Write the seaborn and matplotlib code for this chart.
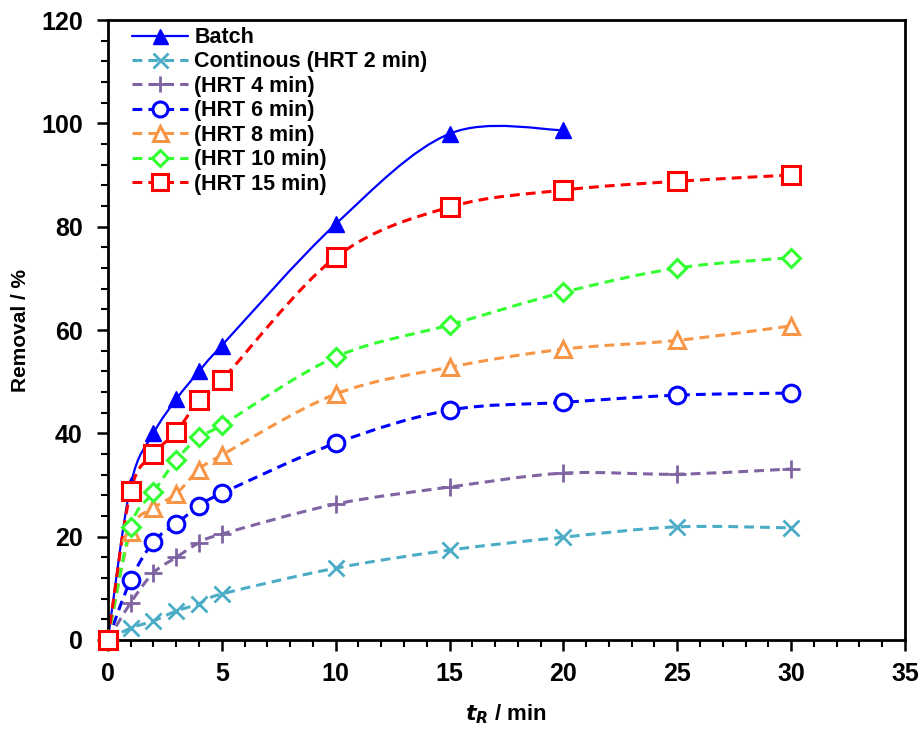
import numpy as np
import pandas as pd
import matplotlib
matplotlib.use("Agg")
import matplotlib.pyplot as plt
import seaborn as sns
from matplotlib.path import Path
from matplotlib.patches import PathPatch
from matplotlib.lines import Line2D
from matplotlib.ticker import MultipleLocator

# ---- data ----
t_batch = [0, 1, 2, 3, 4, 5, 10, 15, 20]
batch = [0, 30, 40, 46.6, 52, 57, 80.5, 98, 98.7]

t_cont = [0, 1, 2, 3, 4, 5, 10, 15, 20, 25, 30]
hrt2 = [0, 2.3, 3.7, 5.6, 7.0, 8.9, 13.9, 17.4, 19.9, 21.9, 21.7]
hrt4 = [0, 7.2, 13.0, 16.0, 18.8, 20.5, 26.3, 29.6, 32.3, 32.1, 33.1]
hrt6 = [0, 11.6, 19.0, 22.5, 25.9, 28.4, 38.1, 44.5, 46.0, 47.4, 47.8]
hrt8 = [0, 21.0, 25.5, 28.3, 33.0, 35.8, 47.6, 52.8, 56.3, 58.0, 60.8]
hrt10 = [0, 21.9, 28.6, 34.8, 39.3, 41.6, 54.8, 61.0, 67.3, 72.0, 74.0]
hrt15 = [0, 28.8, 36.0, 40.3, 46.4, 50.3, 74.1, 83.8, 87.1, 88.8, 90.0]

labels = ["Batch", "Continous (HRT 2 min)", "(HRT 4 min)", "(HRT 6 min)",
          "(HRT 8 min)", "(HRT 10 min)", "(HRT 15 min)"]

series = [
    (t_batch, batch, "#0000FF", "^", "-", 12, True),
    (t_cont, hrt2, "#4BACC6", "x", "--", 12, False),
    (t_cont, hrt4, "#8064A2", "+", "--", 13, False),
    (t_cont, hrt6, "#0000FF", "o", "--", 12, False),
    (t_cont, hrt8, "#F79646", "^", "--", 12, False),
    (t_cont, hrt10, "#33FF33", "D", "--", 9, False),
    (t_cont, hrt15, "#FF0000", "s", "--", 13, False),
]

sns.set_style("ticks")
plt.rcParams["font.family"] = ["Liberation Sans", "DejaVu Sans"]
plt.rcParams["font.weight"] = "bold"
plt.rcParams["text.color"] = "black"
plt.rcParams["axes.labelcolor"] = "black"
plt.rcParams["xtick.color"] = "black"
plt.rcParams["ytick.color"] = "black"

fig = plt.figure(figsize=(9.22, 7.31), dpi=100)
ax = fig.add_axes([0.117, 0.1245, 0.8646, 0.848])

DASH = (0, (3.2, 2.0))


def smooth_path(x, y):
    P = np.column_stack([x, y]).astype(float)
    n = len(P)
    verts = [P[0]]
    codes = [Path.MOVETO]
    for i in range(n - 1):
        p0 = P[i - 1] if i > 0 else P[i]
        p1 = P[i]
        p2 = P[i + 1]
        p3 = P[i + 2] if i + 2 < n else P[i + 1]
        c1 = p1 + (p2 - p0) / 6.0
        c2 = p2 - (p3 - p1) / 6.0
        verts += [c1, c2, p2]
        codes += [Path.CURVE4] * 3
    return Path(verts, codes)


handles = []
for (x, y, col, mk, ls, ms, filled), lab in zip(series, labels):
    lstyle = "-" if ls == "-" else DASH
    lw = 1.6 if ls == "-" else 2.2
    patch = PathPatch(smooth_path(x, y), fill=False, edgecolor=col,
                      linewidth=lw, linestyle=lstyle, zorder=2)
    ax.add_patch(patch)
    df = pd.DataFrame({"t": x, "r": y})
    mew = 2.2 if mk in ("s", "o", "^", "D") else 2.0
    sns.lineplot(data=df, x="t", y="r", ax=ax, linestyle="", marker=mk,
                 markersize=ms, color=col,
                 markerfacecolor=(col if filled else "white"),
                 markeredgecolor=col, markeredgewidth=(1 if filled else mew),
                 zorder=3, clip_on=False)
    handles.append(Line2D([], [], color=col, linestyle=lstyle, linewidth=lw,
                          marker=mk, markersize=ms * 0.9,
                          markerfacecolor=(col if filled else "white"),
                          markeredgecolor=col,
                          markeredgewidth=(1 if filled else mew)))

ax.set_xlim(0, 35)
ax.set_ylim(0, 120)
ax.xaxis.set_major_locator(MultipleLocator(5))
ax.xaxis.set_minor_locator(MultipleLocator(1))
ax.yaxis.set_major_locator(MultipleLocator(20))
ax.yaxis.set_minor_locator(MultipleLocator(4))
ax.tick_params(which="major", direction="out", length=8, width=1.8,
               labelsize=18, pad=10, colors="black")
ax.tick_params(which="minor", direction="out", length=5, width=1.5,
               colors="black")
ax.tick_params(axis="x", which="major", pad=8)
for lbl in ax.get_xticklabels() + ax.get_yticklabels():
    lbl.set_fontweight("bold")
for sp in ax.spines.values():
    sp.set_visible(True)
    sp.set_linewidth(2.0)
    sp.set_color("black")

ax.set_ylabel("Removal / %", fontsize=15, fontweight="bold", labelpad=8,
              color="black")
ax.set_xlabel(r"$\bfit{t}_{\bfit{R}}$ / min", fontsize=16, fontweight="bold",
              labelpad=12, color="black")

leg = fig.legend(handles, labels, loc="upper left",
                 bbox_to_anchor=(0.143, 0.963), frameon=False,
                 fontsize=15.5, handlelength=2.6, handletextpad=0.3,
                 labelspacing=0.16, borderpad=0, borderaxespad=0)
for txt in leg.get_texts():
    txt.set_fontweight("bold")
    txt.set_color("black")

fig.savefig("out.png", dpi=100)
